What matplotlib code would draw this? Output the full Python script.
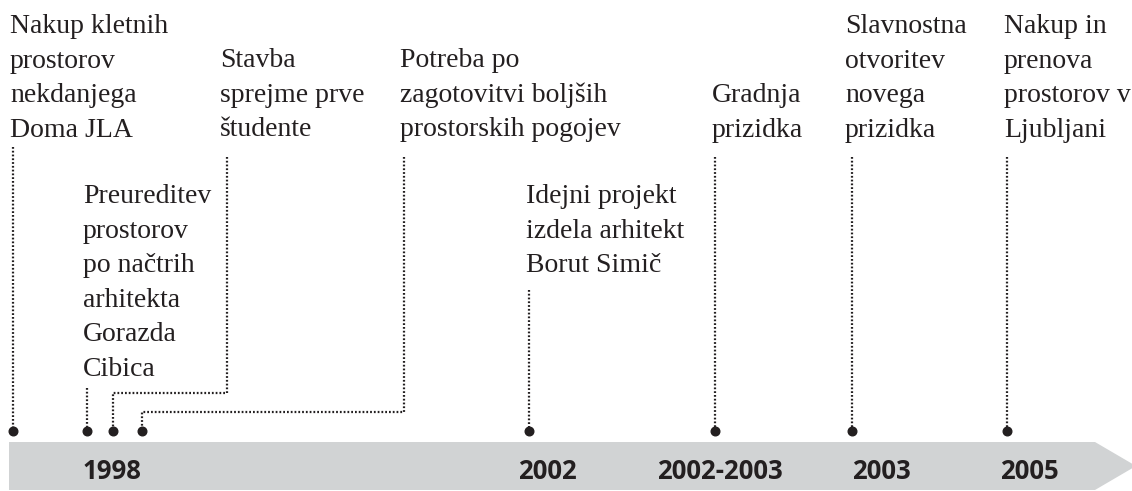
import matplotlib.pyplot as plt
from matplotlib.patches import Polygon

# Timeline content
labels = [
    "Nakup kletnih\nprostorov\nnekdanjega\nDoma JLA",
    "Preureditev\nprostorov\npo načtrih\narhitekta\nGorazda\nCibica",
    "Stavba\nsprejme prve\nštudente",
    "Potreba po\nzagotovitvi boljših\nprostorskih pogojev",
    "Idejni projekt\nizdela arhitekt\nBorut Simič",
    "Gradnja\nprizidka",
    "Slavnostna\notvoritev\nnovega\nprizidka",
    "Nakup in\nprenova\nprostorov v\nLjubljani",
]
years = ['1998', '2002', '2002-2003', '2003', '2005']

# layout in pixel units
dot_x = [13, 87, 113, 142, 529, 715, 852, 1007]
line_x = [13, 87, 227, 404, 529, 715, 852, 1007]
text_x = [10, 83, 220, 400, 526, 712, 845, 1004]
first_base = [33, 203, 67, 67, 203, 102, 33, 33]
line_top = [147, 388, 157, 157, 290, 157, 157, 157]
elbow_y = [None, None, 393, 412, None, None, None, None]
year_x = [83, 518, 657, 852, 1000]

W, H = 1132, 491
dot_y = 431
line_step = 34.6
ink = '#231f20'

fig = plt.figure(figsize=(W / 100, H / 100), dpi=100)
ax = fig.add_axes([0, 0, 1, 1])
ax.set_xlim(0, W)
ax.set_ylim(H, 0)
ax.axis('off')

# grey arrow band
band = Polygon([(9, 442), (1095, 442), (1136, 466), (1095, 490), (9, 490)],
               closed=True, facecolor='#d1d3d4', edgecolor='none')
ax.add_patch(band)

for yr, x in zip(years, year_x):
    ax.text(x, 479, yr, fontsize=18.5, fontweight='bold', family='Open Sans',
            color=ink, va='baseline', ha='left')

for i, lab in enumerate(labels):
    for k, line in enumerate(lab.split('\n')):
        ax.text(text_x[i], first_base[i] + k * line_step, line, fontsize=20,
                family='Liberation Serif', color=ink, va='baseline', ha='left')

    # dotted connector
    if elbow_y[i] is None:
        xs = [line_x[i], dot_x[i]]
        ys = [line_top[i], dot_y]
    else:
        xs = [line_x[i], line_x[i], dot_x[i], dot_x[i]]
        ys = [line_top[i], elbow_y[i], elbow_y[i], dot_y]
    ax.plot(xs, ys, color=ink, lw=1.6, dashes=(0.8, 0.9), dash_capstyle='butt')
    ax.plot(dot_x[i], dot_y, 'o', color=ink, markersize=6.2)

fig.savefig('out.png', dpi=100)
